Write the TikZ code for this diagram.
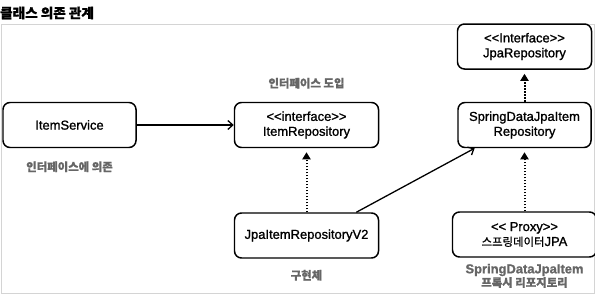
\documentclass[tikz,border=0pt]{standalone}
\usepackage{fontspec}
\setmainfont{Liberation Sans}[FakeBold=1.2]
\newfontfamily\kr{Noto Sans CJK KR}[Scale=0.88,FakeBold=0.8]
\usetikzlibrary{arrows.meta,positioning}
\definecolor{NoteGray}{HTML}{666666}
\definecolor{FrameGray}{HTML}{D4D4D4}
\newcommand\dopen{<\kern0pt<}
\newcommand\dclose{>\kern0pt>}

\begin{document}
\begin{tikzpicture}[x=1bp,y=1bp,
  every node/.style={font=\fontsize{13}{15}\selectfont},
  box/.style={draw,line width=1.5pt,rounded corners=7bp,minimum height=45bp,align=center,inner sep=2bp},
  note/.style={text=NoteGray,font=\fontsize{13}{13.5}\selectfont\bfseries,align=center,inner sep=0pt},
  uses/.style={-{Straight Barb[length=5bp,width=9bp]},line width=1.3pt},
  realizes/.style={-{Triangle[length=7bp,width=8bp]},dash pattern=on 1.7bp off 1.3bp,line width=2bp,shorten >=4bp}]
  \useasboundingbox (0,0) rectangle (595,296);
  \draw[FrameGray,line width=0.8pt] (1,3) rectangle (594,272);
  \node[anchor=west,inner sep=0pt,font=\fontsize{15.5}{17}\selectfont\kr\bfseries] (title) at (0,283) {클래스 의존 관계};
  \node[box,minimum width=133bp] (svc) at (69.5,171) {ItemService};
  \node[box,minimum width=144bp,right=97bp of svc] (repo) {\dopen interface\dclose\\ItemRepository};
  \node[box,minimum width=144bp,below=64bp of repo] (impl) {JpaItemRepositoryV2};
  \node[box,minimum width=133bp,right=78bp of repo] (sdj) {SpringDataJpaItem\\Repository};
  \node[box,minimum width=134bp,above=32bp of sdj] (jpa) {\dopen Interface\dclose\\JpaRepository};
  \node[box,minimum width=144bp,below=63bp of sdj] (proxy) {\dopen{} Proxy\dclose\\{\kr 스프링데이터}JPA};
  % labels
  \node[note,below=13bp of svc] (svcnote) {\kr 인터페이스에 의존};
  \node[note,above=13bp of repo] (reponote) {\kr 인터페이스 도입};
  \node[note,below=11bp of impl] (implnote) {\kr 구현체};
  \node[note,below=6bp of proxy] (proxynote) {SpringDataJpaItem\\{\kr 프록시 리포지토리}};
  % dependencies
  \draw[uses] (svc) -- (repo);
  \draw[uses] (impl.25.6) -- (sdj.205);
  \foreach \a/\b in {impl/repo,sdj/jpa,proxy/sdj}{\draw[realizes] (\a) -- (\b);}
\end{tikzpicture}
\end{document}
